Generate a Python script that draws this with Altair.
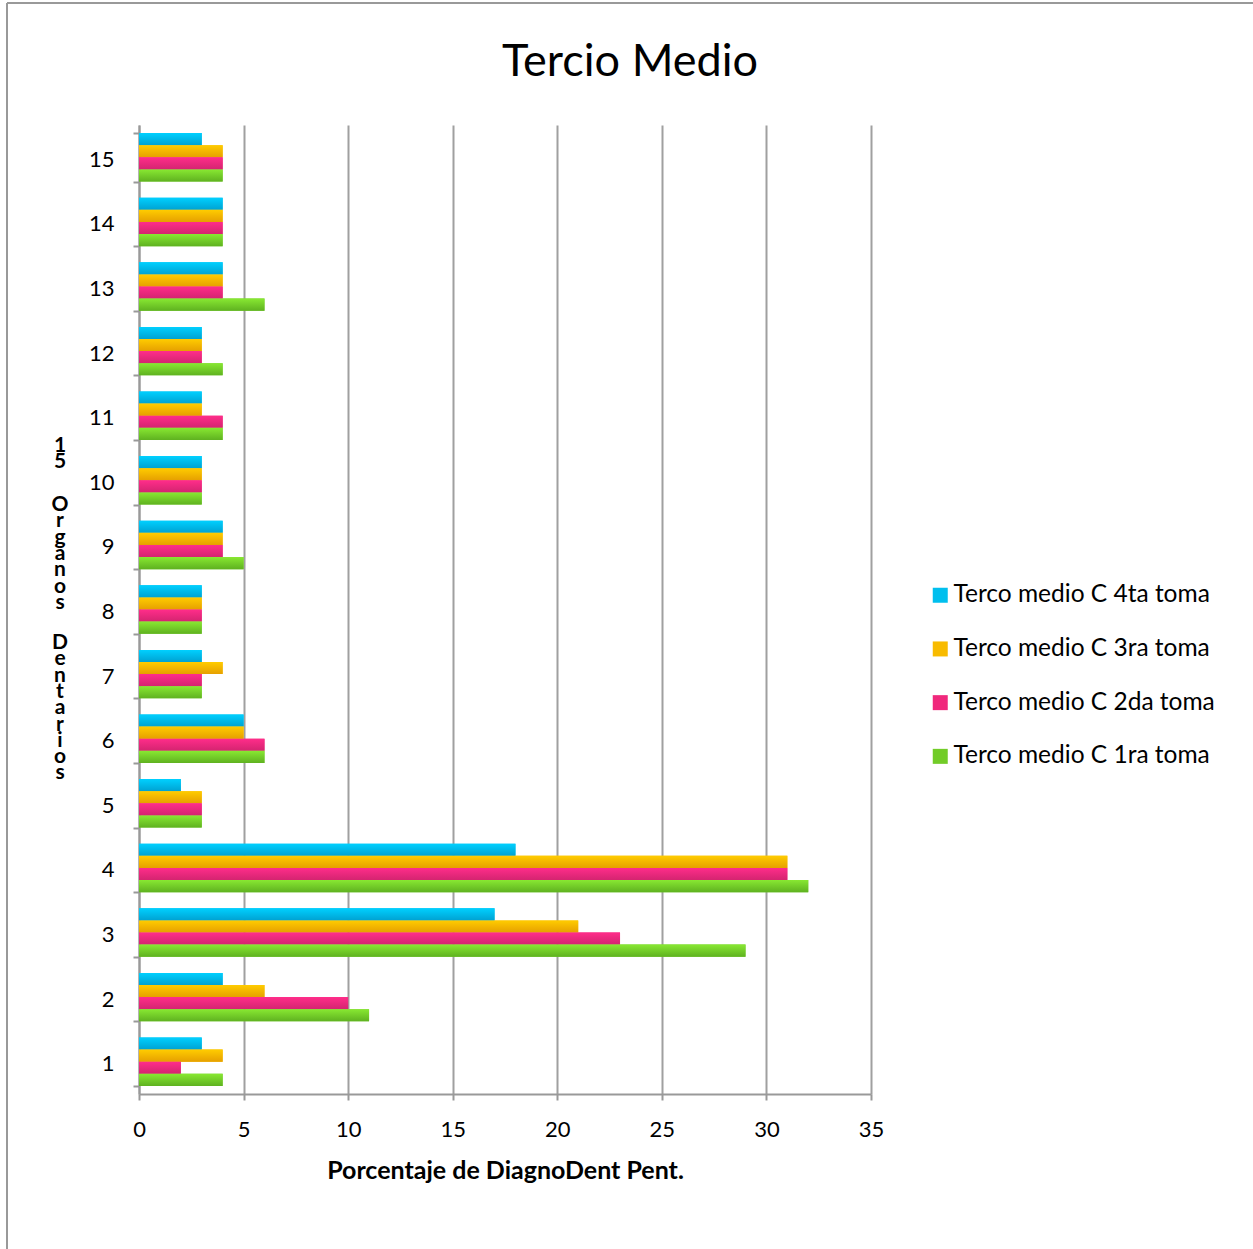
import altair as alt
import pandas as pd

# Teeth 1..15 and the four readings ("tomas") of the middle third
organos = [str(i) for i in range(1, 16)]
series = [
    "Terco medio C 4ta toma",
    "Terco medio C 3ra toma",
    "Terco medio C 2da toma",
    "Terco medio C 1ra toma",
]
toma4 = [3, 4, 17, 18, 2, 5, 3, 3, 4, 3, 3, 3, 4, 4, 3]
toma3 = [4, 6, 21, 31, 3, 5, 4, 3, 4, 3, 3, 3, 4, 4, 4]
toma2 = [2, 10, 23, 31, 3, 6, 3, 3, 4, 3, 4, 3, 4, 4, 4]
toma1 = [4, 11, 29, 32, 3, 6, 3, 3, 5, 3, 4, 4, 6, 4, 4]

flat_colors = ["#00bfee", "#f8bb00", "#f0287c", "#72cc28"]
gradients = [
    ("#00d0ff", "#00a2d2"),
    ("#ffcc00", "#e6a000"),
    ("#ff2d8a", "#d42470"),
    ("#88e832", "#5fb220"),
]

# y-axis caption, written as upright stacked characters (three words)
y_caption_words = ["15", "Organos", "Dentarios"]
y_caption_tops = [435, 494, 632]

rows = []
for s, vals in zip(series, [toma4, toma3, toma2, toma1]):
    for o, v in zip(organos, vals):
        rows.append({"organo": o, "serie": s, "valor": v})
df = pd.DataFrame(rows)

FONT = "Lato"
W, H = 732, 969
PAD_L, PAD_T = 139, 125
TOTAL_W, TOTAL_H = 1253, 1249

y_enc = alt.Y(
    "organo:N",
    sort=list(reversed(organos)),
    scale=alt.Scale(paddingInner=0.25, paddingOuter=0.125),
    axis=alt.Axis(
        title=None,
        labelFont=FONT,
        labelFontSize=22,
        labelColor="#000",
        labelPadding=19,
        labelOffset=2,
        tickBand="extent",
        tickSize=6,
        tickColor="#999999",
        tickWidth=2,
        domainColor="#999999",
        domainWidth=2,
        grid=False,
    ),
)
yoff_enc = alt.YOffset("serie:N", sort=series, scale=alt.Scale(domain=series, paddingInner=0))
x_enc = alt.X(
    "valor:Q",
    scale=alt.Scale(domain=[0, 35], nice=False),
    axis=alt.Axis(
        values=list(range(0, 36, 5)),
        title="Porcentaje de DiagnoDent Pent.",
        titleFont=FONT,
        titleFontSize=25,
        titleFontWeight="bold",
        titleColor="#000",
        titlePadding=18,
        labelFont=FONT,
        labelFontSize=22,
        labelColor="#000",
        labelPadding=19,
        labelFlush=False,
        tickSize=6,
        tickColor="#999999",
        tickWidth=2,
        domainColor="#999999",
        domainWidth=2,
        grid=True,
        gridColor="#a0a0a0",
        gridWidth=2,
    ),
)

base = alt.Chart(df)

# flat bars carry the colour scale and the legend
bars = base.mark_bar().encode(
    x=x_enc,
    y=y_enc,
    yOffset=yoff_enc,
    color=alt.Color(
        "serie:N",
        sort=series,
        scale=alt.Scale(domain=series, range=flat_colors),
        legend=alt.Legend(
            title=None,
            orient="none",
            legendX=789,
            legendY=458,
            symbolType="square",
            symbolSize=225,
            symbolStrokeWidth=0,
            labelFont=FONT,
            labelFontSize=24.5,
            labelColor="#000",
            labelOffset=1,
            labelLimit=0,
            rowPadding=28.7,
        ),
    ),
)

# shaded overlay for each reading
shaded = []
for s, (c1, c2) in zip(series, gradients):
    shaded.append(
        base.transform_filter(alt.datum.serie == s)
        .mark_bar(
            color=alt.Gradient(
                gradient="linear",
                stops=[alt.GradientStop(color=c1, offset=0), alt.GradientStop(color=c2, offset=1)],
                x1=0, x2=0, y1=0, y2=1,
            )
        )
        .encode(x=x_enc, y=y_enc, yOffset=yoff_enc)
    )

title = alt.Chart(pd.DataFrame({"t": ["Tercio Medio"]})).mark_text(
    font=FONT, fontSize=45, color="#000", align="center", baseline="middle"
).encode(text="t:N", x=alt.value(630 - PAD_L), y=alt.value(62 - PAD_T))

caption = []
for word, top in zip(y_caption_words, y_caption_tops):
    caption.append(
        alt.Chart(pd.DataFrame({"a": [0]})).mark_text(
            text=list(word),
            font=FONT,
            fontSize=21,
            fontWeight="bold",
            color="#000",
            align="center",
            baseline="top",
            lineHeight=16.3,
        ).encode(x=alt.value(60 - PAD_L), y=alt.value(top - PAD_T))
    )

frame_left = alt.Chart(pd.DataFrame({"a": [0]})).mark_rule(color="#999999", strokeWidth=2).encode(
    x=alt.value(7 - PAD_L), y=alt.value(3 - PAD_T), y2=alt.value(TOTAL_H - PAD_T)
)
frame_top = alt.Chart(pd.DataFrame({"a": [0]})).mark_rule(color="#999999", strokeWidth=2).encode(
    x=alt.value(7 - PAD_L), x2=alt.value(TOTAL_W - PAD_L), y=alt.value(3 - PAD_T)
)

chart = (
    alt.layer(bars, *shaded, title, *caption, frame_left, frame_top)
    .properties(
        width=W,
        height=H,
        autosize=alt.AutoSizeParams(type="none"),
        padding={"left": PAD_L, "top": PAD_T, "right": TOTAL_W - PAD_L - W, "bottom": TOTAL_H - PAD_T - H},
        background="white",
    )
    .configure_view(stroke=None)
)

chart.save("out.html", embed_options={"renderer": "svg", "actions": False})
